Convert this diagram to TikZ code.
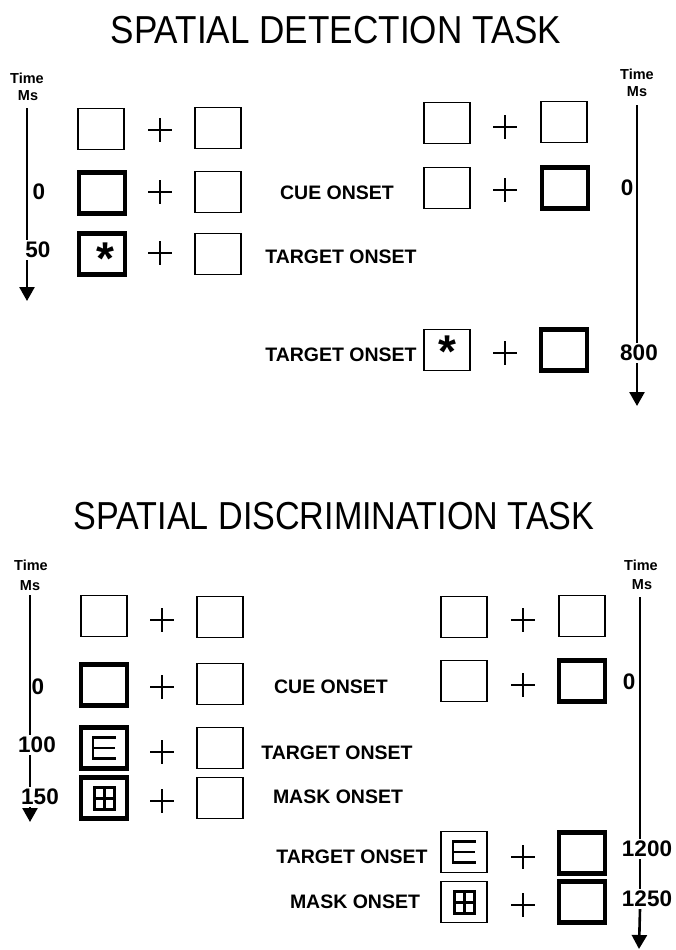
\documentclass[tikz,border=0pt]{standalone}
\usepackage{fontspec}
\setmainfont{Liberation Sans}
\usetikzlibrary{arrows.meta}

\tikzset{
  plainbox/.style={draw, line width=1.8pt, minimum width=46pt, minimum height=41pt, inner sep=0pt},
  cuebox/.style={draw, line width=4.5pt, minimum width=46pt, minimum height=41pt, inner sep=0pt},
  onset/.style={font=\fontsize{19.5}{22}\selectfont\bfseries, inner sep=0pt},
  msec/.style={font=\fontsize{22.5}{24}\selectfont\bfseries, inner sep=2pt},
  unit/.style={font=\fontsize{14.5}{16}\selectfont\bfseries, inner sep=0pt},
  heading/.style={font=\fontsize{39}{42}\selectfont, inner sep=0pt},
  star/.style={font=\fontsize{46}{46}\selectfont\bfseries, inner sep=0pt},
  axis/.style={line width=2.6pt},
  axisend/.style={axis, -{Triangle[width=15pt,length=14pt]}},
  fixation/.pic={\draw[line width=2.3pt] (-12,0) -- (12,0) (0,-12) -- (0,12);},
  letterE/.pic={\draw[line width=2.2pt] (11.5,-10.5) -- (-11,-10.5) -- (-11,10.5) -- (11.5,10.5) (-11,0) -- (11,0);},
  maskpat/.pic={\draw[line width=3pt] (-10,-11) rectangle (10,11) (0,-11) -- (0,11) (-10,0) -- (10,0);},
}

\begin{document}
\begin{tikzpicture}[x=1pt, y=-1pt]
  \useasboundingbox (0,0) rectangle (675,950);

  % detection task
  \begin{scope}
    \node[heading, xscale=.9] (dTitle) at (336,30) {SPATIAL DETECTION TASK};

    % valid trial, left
    \node[unit] (dLtime) at (27,78) {Time};
    \node[unit] (dLms) at (28,96) {Ms};
    \coordinate (dLtop) at (27,108);
    \coordinate (dLend) at (27,301);
    \node[msec] (dL0) at (39,192) {0};
    \node[msec] (dL50) at (38,250) {50};
    \draw[axis] (dLtop) -- (dL50.north -| dLtop);
    \draw[axisend] (dL50.south -| dLtop) -- (dLend);

    \node[plainbox] (dL1a) at (101,129) {};
    \pic at (160,130) {fixation};
    \node[plainbox] (dL1b) at (218,128) {};

    \node[cuebox] (dL2a) at (102,193) {};
    \pic at (160,192) {fixation};
    \node[plainbox] (dL2b) at (218,192) {};
    \node[onset] (dLcue) at (337,193) {CUE ONSET};

    \node[cuebox] (dL3a) at (102,254) {};
    \node[star] (dL3s) at (105,259) {*};
    \pic at (160,253) {fixation};
    \node[plainbox] (dL3b) at (218,254) {};
    \node[onset] (dLtarget) at (341,257) {TARGET ONSET};

    % invalid trial, right
    \node[unit] (dRtime) at (637,74) {Time};
    \node[unit] (dRms) at (637,92) {Ms};
    \coordinate (dRtop) at (637,105);
    \coordinate (dRend) at (637,406);
    \node[msec] (dR0) at (627,188) {0};
    \node[msec] (dR800) at (639,353) {800};
    \draw[axis] (dRtop) -- (dR800.north -| dRtop);
    \draw[axisend] (dR800.south -| dRtop) -- (dRend);

    \node[plainbox] (dR1a) at (447,123) {};
    \pic at (505,127) {fixation};
    \node[plainbox] (dR1b) at (564,122) {};

    \node[plainbox] (dR2a) at (447,188) {};
    \pic at (505,190) {fixation};
    \node[cuebox] (dR2b) at (565,188) {};

    \node[onset] (dRtarget) at (341,355) {TARGET ONSET};
    \node[plainbox] (dR3a) at (447,350) {};
    \node[star] (dR3s) at (447,352) {*};
    \pic at (505,353) {fixation};
    \node[cuebox] (dR3b) at (564,350) {};
  \end{scope}

  % discrimination task
  \begin{scope}
    \node[heading, xscale=.875] (sTitle) at (334,516) {SPATIAL DISCRIMINATION TASK};

    % valid trial, left
    \node[unit] (sLtime) at (31,565) {Time};
    \node[unit] (sLms) at (30,586) {Ms};
    \coordinate (sLtop) at (30,595);
    \coordinate (sLend) at (30,822);
    \node[msec] (sL0) at (38,687) {0};
    \node[msec] (sL100) at (37,745) {100};
    \node[msec] (sL150) at (40,797) {150};
    \draw[axis] (sLtop) -- (sL100.north -| sLtop);
    \draw[axis] (sL100.south -| sLtop) -- (sL150.north -| sLtop);
    \draw[axisend] (sL150.south -| sLtop) -- (sLend);

    \node[plainbox] (sL1a) at (104,616) {};
    \pic at (162,620) {fixation};
    \node[plainbox] (sL1b) at (220,617) {};

    \node[cuebox] (sL2a) at (104,685) {};
    \pic at (162,687) {fixation};
    \node[plainbox] (sL2b) at (220,684) {};
    \node[onset] (sLcue) at (331,687) {CUE ONSET};

    \node[cuebox] (sL3a) at (104,748) {};
    \pic at (sL3a) {letterE};
    \pic at (162,752) {fixation};
    \node[plainbox] (sL3b) at (220,748) {};
    \node[onset] (sLtarget) at (337,753) {TARGET ONSET};

    \node[cuebox] (sL4a) at (104,798) {};
    \pic at (sL4a) {maskpat};
    \pic at (162,801) {fixation};
    \node[plainbox] (sL4b) at (220,798) {};
    \node[onset] (sLmask) at (338,797) {MASK ONSET};

    % invalid trial, right
    \node[unit] (sRtime) at (641,565) {Time};
    \node[unit] (sRms) at (642,585) {Ms};
    \coordinate (sRtop) at (640,597);
    \coordinate (sRend) at (639,949);
    \node[msec] (sR0) at (629,682) {0};
    \node[msec] (sR1200) at (647,849) {1200};
    \node[msec] (sR1250) at (647,899) {1250};
    \draw[axis] (sRtop) -- (sR1200.north -| sRtop);
    \draw[axis] (sR1200.south -| sRtop) -- (sR1250.north -| sRtop);
    \draw[axisend] (sR1250.south -| sRtop) -- (sRend);

    \node[plainbox] (sR1a) at (464,617) {};
    \pic at (523,620) {fixation};
    \node[plainbox] (sR1b) at (582,616) {};

    \node[plainbox] (sR2a) at (464,681) {};
    \pic at (523,685) {fixation};
    \node[cuebox] (sR2b) at (582,681) {};

    \node[onset] (sRtarget) at (352,857) {TARGET ONSET};
    \node[plainbox] (sR3a) at (464,852) {};
    \pic at (sR3a) {letterE};
    \pic at (523,857) {fixation};
    \node[cuebox] (sR3b) at (582,853) {};

    \node[onset] (sRmask) at (355,902) {MASK ONSET};
    \node[plainbox] (sR4a) at (464,902) {};
    \pic at (sR4a) {maskpat};
    \pic at (523,905) {fixation};
    \node[cuebox] (sR4b) at (582,902) {};
  \end{scope}
\end{tikzpicture}
\end{document}
